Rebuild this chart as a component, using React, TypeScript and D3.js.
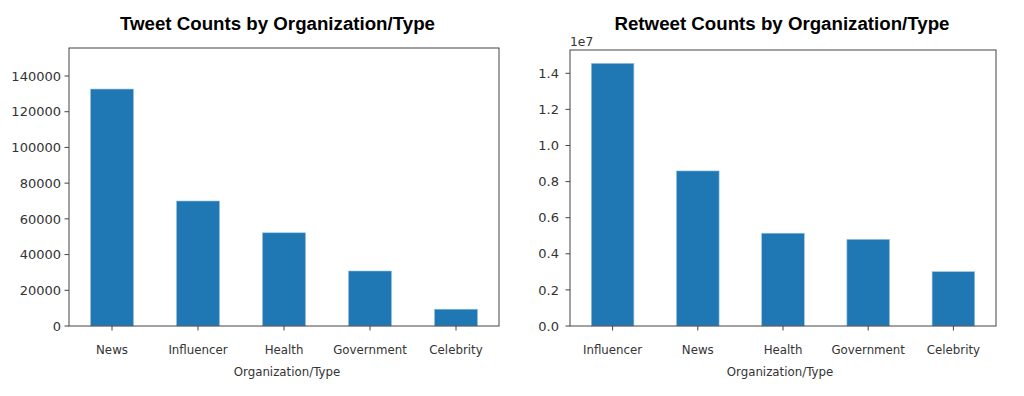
import React from "react";
import * as d3 from "d3";

const tweetCategories = ["News", "Influencer", "Health", "Government", "Celebrity"];
const tweetCounts = [132700, 70000, 52200, 30800, 9400];
const tweetTicks = [0, 20000, 40000, 60000, 80000, 100000, 120000, 140000];

const retweetCategories = ["Influencer", "News", "Health", "Government", "Celebrity"];
const retweetCounts = [14550000, 8590000, 5140000, 4800000, 3010000];
const retweetTicks = [0, 2000000, 4000000, 6000000, 8000000, 10000000, 12000000, 14000000];

const titles = ["Tweet Counts by Organization/Type", "Retweet Counts by Organization/Type"];
const xLabel = "Organization/Type";

type PanelProps = {
  title: string;
  categories: string[];
  values: number[];
  ticks: number[];
  yMax: number;
  left: number;
  right: number;
  top: number;
  bottom: number;
  titleX: number;
  labelRight: number;
  xLabelX: number;
  fmt: (v: number) => string;
  offsetText?: string;
};

function Panel(p: PanelProps) {
  const x = d3
    .scaleBand<string>()
    .domain(p.categories)
    .range([p.left, p.right])
    .paddingInner(0.5)
    .paddingOuter(0.25);
  const y = d3.scaleLinear().domain([0, p.yMax]).range([p.bottom, p.top]);
  const textColor = "#333";
  const axisColor = "#444";
  return (
    <g>
      <text
        x={p.titleX}
        y={29.5}
        textAnchor="middle"
        fontFamily="'Liberation Sans', Arial, sans-serif"
        fontWeight="bold"
        fontSize={18.7}
        fill="#000"
      >
        {p.title}
      </text>
      {p.categories.map((c, i) => (
        <rect
          key={c}
          x={x(c)}
          y={y(p.values[i])}
          width={x.bandwidth()}
          height={p.bottom - y(p.values[i])}
          fill="#1f77b4"
          stroke="#9cc3df"
          strokeWidth={0.6}
        />
      ))}
      <rect
        x={p.left}
        y={p.top}
        width={p.right - p.left}
        height={p.bottom - p.top}
        fill="none"
        stroke={axisColor}
        strokeWidth={1}
      />
      {p.ticks.map((t) => (
        <g key={t}>
          <line x1={p.left - 4.5} x2={p.left} y1={y(t)} y2={y(t)} stroke={axisColor} strokeWidth={1} />
          <text
            x={p.labelRight}
            y={y(t)}
            dy="0.36em"
            textAnchor="end"
            fontFamily="'DejaVu Sans', sans-serif"
            fontSize={13}
            fill={textColor}
          >
            {p.fmt(t)}
          </text>
        </g>
      ))}
      {p.categories.map((c) => {
        const cx = (x(c) as number) + x.bandwidth() / 2;
        return (
          <g key={c}>
            <line x1={cx} x2={cx} y1={p.bottom} y2={p.bottom + 4.5} stroke={axisColor} strokeWidth={1} />
            <text
              x={cx}
              y={354}
              textAnchor="middle"
              fontFamily="'DejaVu Sans', sans-serif"
              fontSize={11.8}
              fill={textColor}
            >
              {c}
            </text>
          </g>
        );
      })}
      <text
        x={p.xLabelX}
        y={375.5}
        textAnchor="middle"
        fontFamily="'DejaVu Sans', sans-serif"
        fontSize={11.8}
        fill={textColor}
      >
        {xLabel}
      </text>
      {p.offsetText ? (
        <text
          x={p.left}
          y={p.top - 4}
          fontFamily="'DejaVu Sans', sans-serif"
          fontSize={12.3}
          fill={textColor}
        >
          {p.offsetText}
        </text>
      ) : null}
    </g>
  );
}

export default function App() {
  return (
    <svg
      width={1024}
      height={396}
      style={{ position: "absolute", left: 0, top: 0, background: "#fff" }}
    >
      <rect x={0} y={0} width={1024} height={396} fill="#fff" />
      <Panel
        title={titles[0]}
        categories={tweetCategories}
        values={tweetCounts}
        ticks={tweetTicks}
        yMax={155680}
        left={69}
        right={499}
        top={48}
        bottom={326}
        titleX={277.5}
        labelRight={61}
        xLabelX={287}
        fmt={(v) => String(v)}
      />
      <Panel
        title={titles[1]}
        categories={retweetCategories}
        values={retweetCounts}
        ticks={retweetTicks}
        yMax={15290000}
        left={570}
        right={996}
        top={50}
        bottom={326}
        titleX={782}
        labelRight={559}
        xLabelX={780}
        fmt={(v) => (v / 1e7).toFixed(1)}
        offsetText="1e7"
      />
    </svg>
  );
}
